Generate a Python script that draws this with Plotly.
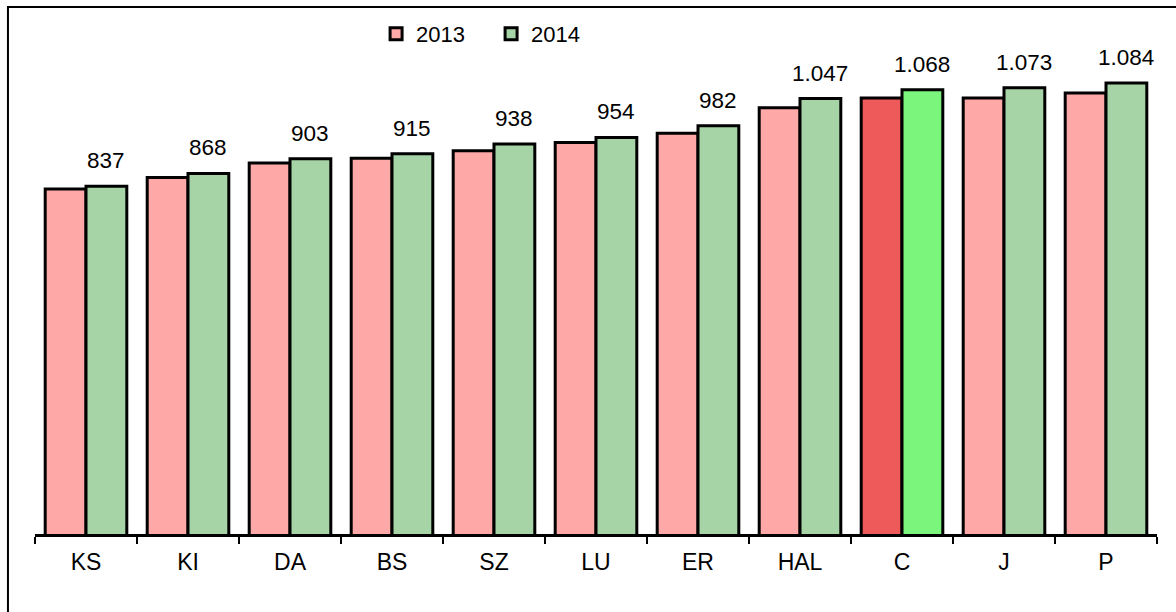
import plotly.graph_objects as go

categories = ["KS", "KI", "DA", "BS", "SZ", "LU", "ER", "HAL", "C", "J", "P"]
values_2013 = [831, 858, 893, 904, 922, 942, 964, 1025, 1048, 1048, 1060]
values_2014 = [837, 868, 903, 915, 938, 954, 982, 1047, 1068, 1073, 1084]
highlight = "C"

pink, red_hl = "#FFA8A8", "#EE5A5A"
green, green_hl = "#A6D4A6", "#7CF57C"
colors_2013 = [red_hl if c == highlight else pink for c in categories]
colors_2014 = [green_hl if c == highlight else green for c in categories]

FONT = "Liberation Sans, Arial, sans-serif"

fig = go.Figure()
fig.add_trace(go.Bar(name="2013", x=categories, y=values_2013,
                     marker=dict(color=colors_2013, line=dict(color="black", width=3))))
fig.add_trace(go.Bar(name="2014", x=categories, y=values_2014,
                     marker=dict(color=colors_2014, line=dict(color="black", width=3))))

for c, v in zip(categories, values_2014):
    fig.add_annotation(x=c, y=v, xref="x", yref="y", text=f"{v:,}".replace(",", "."),
                       showarrow=False, xshift=20.4, yshift=11, yanchor="bottom",
                       font=dict(family=FONT, size=22.5, color="black"))

fig.add_shape(type="rect", xref="paper", yref="paper", x0=-0.0241, x1=1.1, y0=-0.3, y1=1.0498,
              line=dict(color="black", width=2), fillcolor="rgba(0,0,0,0)", layer="above")

fig.update_layout(
    width=1176, height=612,
    margin=dict(l=35, r=19, t=32, b=78),
    paper_bgcolor="white", plot_bgcolor="white",
    barmode="group", bargap=0.2, bargroupgap=0,
    font=dict(family=FONT, size=22, color="black"),
    showlegend=True,
    legend=dict(orientation="h", x=0.304, y=0.996, xanchor="left", yanchor="middle",
                font=dict(size=22), itemwidth=30, entrywidth=70, entrywidthmode="pixels",
                bgcolor="rgba(0,0,0,0)"),
    xaxis=dict(showline=True, linecolor="black", linewidth=2.5, ticks="outside", ticklen=7,
               tickcolor="black", tickwidth=1.5, tickson="boundaries", showgrid=False,
               tickfont=dict(size=23), ticklabelstandoff=6),
    yaxis=dict(range=[6, 1206], visible=False, showgrid=False, zeroline=False),
)

fig.write_html("out.html", config={"displayModeBar": False},
               post_script="document.body.style.margin='0';")
